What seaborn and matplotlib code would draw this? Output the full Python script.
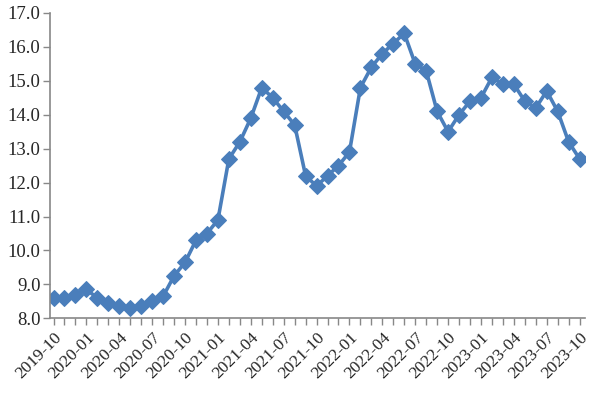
import matplotlib
matplotlib.use("Agg")
import matplotlib.pyplot as plt
import seaborn as sns
import pandas as pd
import numpy as np

months = pd.date_range("2019-10-01", "2023-10-01", freq="MS").strftime("%Y-%m").tolist()
values = [8.6, 8.6, 8.7, 8.85, 8.6, 8.45, 8.35, 8.3, 8.35, 8.5, 8.65, 9.25,
          9.65, 10.3, 10.5, 10.9, 12.7, 13.2, 13.9, 14.8, 14.5, 14.1, 13.7, 12.2,
          11.9, 12.2, 12.5, 12.9, 14.8, 15.4, 15.8, 16.1, 16.4, 15.5, 15.3, 14.1,
          13.5, 14.0, 14.4, 14.5, 15.1, 14.9, 14.9, 14.4, 14.2, 14.7, 14.1, 13.2,
          12.7]
yticks = [8.0, 9.0, 10.0, 11.0, 12.0, 13.0, 14.0, 15.0, 16.0, 17.0]

df = pd.DataFrame({"idx": np.arange(len(months)), "month": months, "value": values})

sns.set_style("white")
plt.rcParams["font.family"] = ["Liberation Serif", "DejaVu Serif"]

fig = plt.figure(figsize=(5.91, 3.93), dpi=100)
ax = fig.add_axes([0.085, 0.19, 0.905, 0.777])

sns.lineplot(data=df, x="idx", y="value", ax=ax, color="#4a7ebb", linewidth=2.6,
             marker="D", markersize=8, markeredgecolor="#4a7ebb", markerfacecolor="#4a7ebb")

ax.set_ylim(8.0, 17.0)
ax.set_xlim(-0.3, len(months) - 1 + 0.5)
ax.set_yticks(yticks)
ax.set_yticklabels([f"{v:.1f}" for v in yticks], fontsize=13.5)
major = list(range(0, len(months), 3))
ax.set_xticks(major)
ax.set_xticklabels([months[i] for i in major], rotation=45, ha="right",
                   rotation_mode="anchor", fontsize=12.5)
ax.set_xticks(range(len(months)), minor=True)
ax.tick_params(axis="x", which="both", direction="out", length=5, width=1, color="#888888", bottom=True, pad=3)
ax.tick_params(axis="y", direction="out", length=5, width=1, color="#888888", left=True, pad=2)
ax.set_xlabel("")
ax.set_ylabel("")
for s in ["top", "right"]:
    ax.spines[s].set_visible(False)
for s in ["left", "bottom"]:
    ax.spines[s].set_color("#888888")
    ax.spines[s].set_linewidth(1.2)

fig.savefig("out.png", dpi=100)
